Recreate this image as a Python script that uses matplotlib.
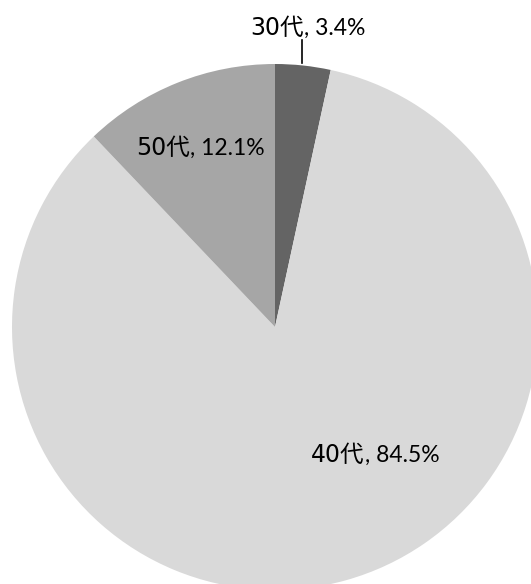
import matplotlib.pyplot as plt

plt.rcParams['font.family'] = ['Noto Sans CJK JP', 'DejaVu Sans']

# 年代別の割合
labels = ['30代', '40代', '50代']
shares = [3.4, 84.5, 12.1]
colors = ['#646464', '#d9d9d9', '#a6a6a6']

fig = plt.figure(figsize=(5.31, 5.84), dpi=100)
ax = fig.add_axes([12 / 531, -6 / 584, 526 / 531, 526 / 584])
ax.pie(shares, colors=colors, startangle=90, counterclock=False,
       radius=1, wedgeprops={'linewidth': 0})
ax.set_xlim(-1, 1)
ax.set_ylim(-1, 1)
ax.set_aspect('equal')
ax.axis('off')

# ラベル位置 (区切り位置とベースライン, データ座標)
label_pos = [(0.110, 1.110), (0.342, -0.513), (-0.323, 0.654)]
for name, val, (x, y) in zip(labels, shares, label_pos):
    ax.text(x, y, name, ha='right', va='baseline', fontsize=17,
            family=['DejaVu Sans', 'Noto Sans CJK JP'],
            color='black', clip_on=False)
    ax.text(x, y, f', {val:.1f}%', ha='left', va='baseline', fontsize=16.5,
            family=['Lato', 'DejaVu Sans'], color='black', clip_on=False)

# 30代の引き出し線
ax.plot([0.103, 0.103], [1.091, 1.004], color='black', lw=1.2, clip_on=False)

fig.savefig('out.png', dpi=100)
